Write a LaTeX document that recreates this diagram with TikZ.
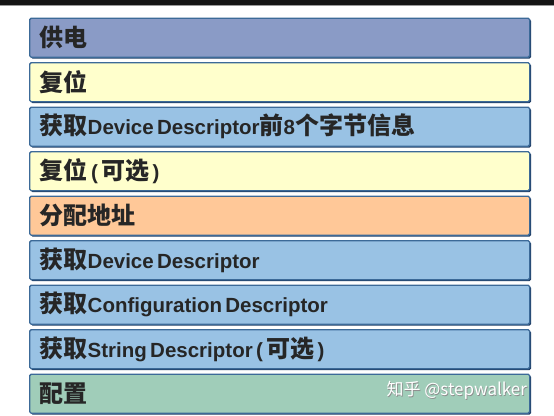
\documentclass[tikz,border=0pt]{standalone}
\usepackage{fontspec}
\setmainfont{Liberation Sans}
\newfontfamily\cjk{Noto Sans CJK SC}
\usetikzlibrary{shadows}
\definecolor{edgec}{HTML}{3C6A98}
\definecolor{shadc}{HTML}{1E3C64}
\definecolor{cpurple}{HTML}{8A9BC6}
\definecolor{cyellow}{HTML}{FFFFCC}
\definecolor{cblue}{HTML}{99C2E4}
\definecolor{cpeach}{HTML}{FFC898}
\definecolor{cgreen}{HTML}{A0CDB9}
\newcommand\zh[1]{{\cjk\bfseries\fontsize{24}{26}\selectfont #1}}
\newcommand\la[1]{{\bfseries\fontsize{20.5}{24}\selectfont #1}}
\tikzset{
  stepbox/.style={draw=edgec, line width=1.4pt, rounded corners=1.5pt,
    minimum width=500pt, minimum height=39pt, text width=480pt,
    inner xsep=10pt, inner ysep=0pt, align=left, anchor=north west,
    drop shadow={shadow xshift=1.3pt, shadow yshift=-1.3pt, fill=shadc, opacity=1},
    text=black!85},
  wm/.style={text=white, font=\cjk\fontsize{17}{20}\selectfont, anchor=west}
}
\begin{document}
\begin{tikzpicture}[x=1pt,y=-1pt]
\useasboundingbox (0,0) rectangle (554,415);
\fill[white] (0,0) rectangle (554,415);
\fill[black!92] (0,0) rectangle (554,5);
\draw[black!40, line width=0.8pt] (0,5.5) -- (554,5.5);
\node[stepbox, fill=cpurple] (b1) at (29,17.5) {\zh{供电}};
\node[stepbox, fill=cyellow] (b2) at (29,62) {\zh{复位}};
\node[stepbox, fill=cblue] (b3) at (29,106.5) {\zh{获取}\la{Device Descriptor}\zh{前}\la{8}\zh{个字节信息}};
\node[stepbox, fill=cyellow] (b4) at (29,151) {\zh{复位}\la{ ( }\zh{可选}\la{ )}};
\node[stepbox, fill=cpeach] (b5) at (29,195.5) {\zh{分配地址}};
\node[stepbox, fill=cblue] (b6) at (29,240) {\zh{获取}\la{Device Descriptor}};
\node[stepbox, fill=cblue] (b7) at (29,284.5) {\zh{获取}\la{Configuration Descriptor}};
\node[stepbox, fill=cblue] (b8) at (29,329) {\zh{获取}\la{String Descriptor ( }\zh{可选}\la{ )}};
\node[stepbox, fill=cgreen] (b9) at (29,373.5) {\zh{配置}};
\node[wm, text=black!45] (wmshadow) at (383.8,390.8) {知乎 @stepwalker};
\node[wm] (wmtext) at (383,390) {知乎 @stepwalker};
\end{tikzpicture}
\end{document}
